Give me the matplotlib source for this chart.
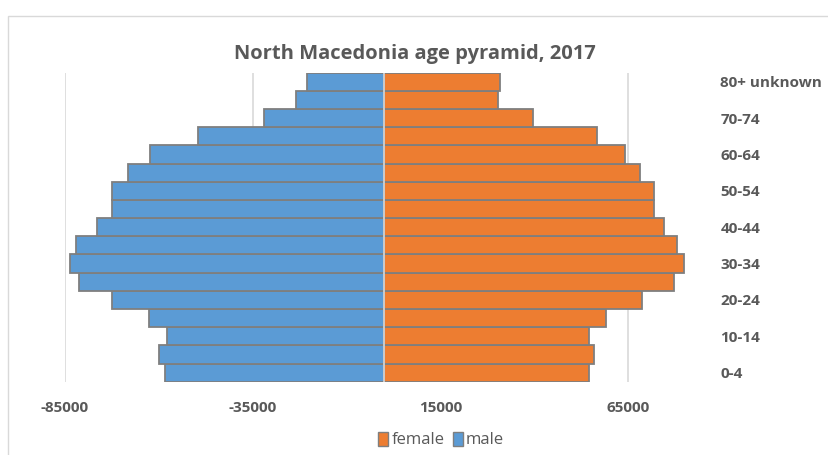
import numpy as np
import matplotlib.pyplot as plt
from matplotlib.patches import Rectangle, Patch

plt.rcParams['font.family'] = ['Open Sans', 'DejaVu Sans']

# age groups from youngest to oldest
age_groups = ['0-4', '5-9', '10-14', '15-19', '20-24', '25-29', '30-34', '35-39',
              '40-44', '45-49', '50-54', '55-59', '60-64', '65-69', '70-74', '75-79',
              '80+ unknown']
male = [58500, 59900, 57800, 62700, 72500, 81200, 83600, 82200,
        76600, 72600, 72500, 68100, 62500, 49500, 32100, 23400, 20500]
female = [54600, 55800, 54600, 59100, 68500, 77100, 79900, 77800,
          74400, 71900, 71800, 68200, 64200, 56700, 39500, 30300, 30800]
x_ticks = [-85000, -35000, 15000, 65000]

blue = '#5b9bd5'
orange = '#ed7d31'
edge = '#7f7f7f'
txt = '#595959'

fig = plt.figure(figsize=(8.29, 4.55), dpi=100)
ax = fig.add_axes([65 / 829, 73.3 / 455, 638.6 / 829, 309 / 455])

y = np.arange(len(age_groups))
ax.barh(y, -np.array(male), height=1.0, color=blue, edgecolor=edge, linewidth=1.3, zorder=3)
ax.barh(y, female, height=1.0, color=orange, edgecolor=edge, linewidth=1.3, zorder=3)

ax.set_xlim(-85000, 85000)
ax.set_ylim(-0.5, len(age_groups) - 0.5)
ax.set_xticks(x_ticks)
ax.set_xticklabels([str(t) for t in x_ticks], fontsize=11, fontweight='bold', color=txt)
ax.grid(axis='x', color='#d9d9d9', linewidth=1.2, zorder=0)
ax.axvline(0, color='#d9d9d9', linewidth=1.2, zorder=4)

ax.yaxis.tick_right()
ax.set_yticks(y[::2])
ax.set_yticklabels(age_groups[::2], fontsize=11, fontweight='bold', color=txt)
ax.tick_params(axis='y', length=0, pad=12)
ax.tick_params(axis='x', length=0, pad=14)
for s in ax.spines.values():
    s.set_visible(False)

fig.text(0.5, 1 - 54 / 455, 'North Macedonia age pyramid, 2017', ha='center', va='center',
         fontsize=14.5, fontweight='bold', color=txt)

handles = [Patch(facecolor=orange, edgecolor=edge, label='female'),
           Patch(facecolor=blue, edgecolor=edge, label='male')]
fig.legend(handles=handles, loc='center', bbox_to_anchor=(441 / 829, 1 - 440 / 455), ncol=2,
           frameon=False, fontsize=12, handlelength=0.6, handleheight=0.9,
           handletextpad=0.2, columnspacing=0.5, labelcolor=txt)

# chart border
fig.patches.append(Rectangle((8 / 829, -0.1), 1.0, 1 - 16 / 455 + 0.1, transform=fig.transFigure,
                             fill=False, edgecolor='#d9d9d9', linewidth=1.0))

fig.savefig('out.png', dpi=100)
